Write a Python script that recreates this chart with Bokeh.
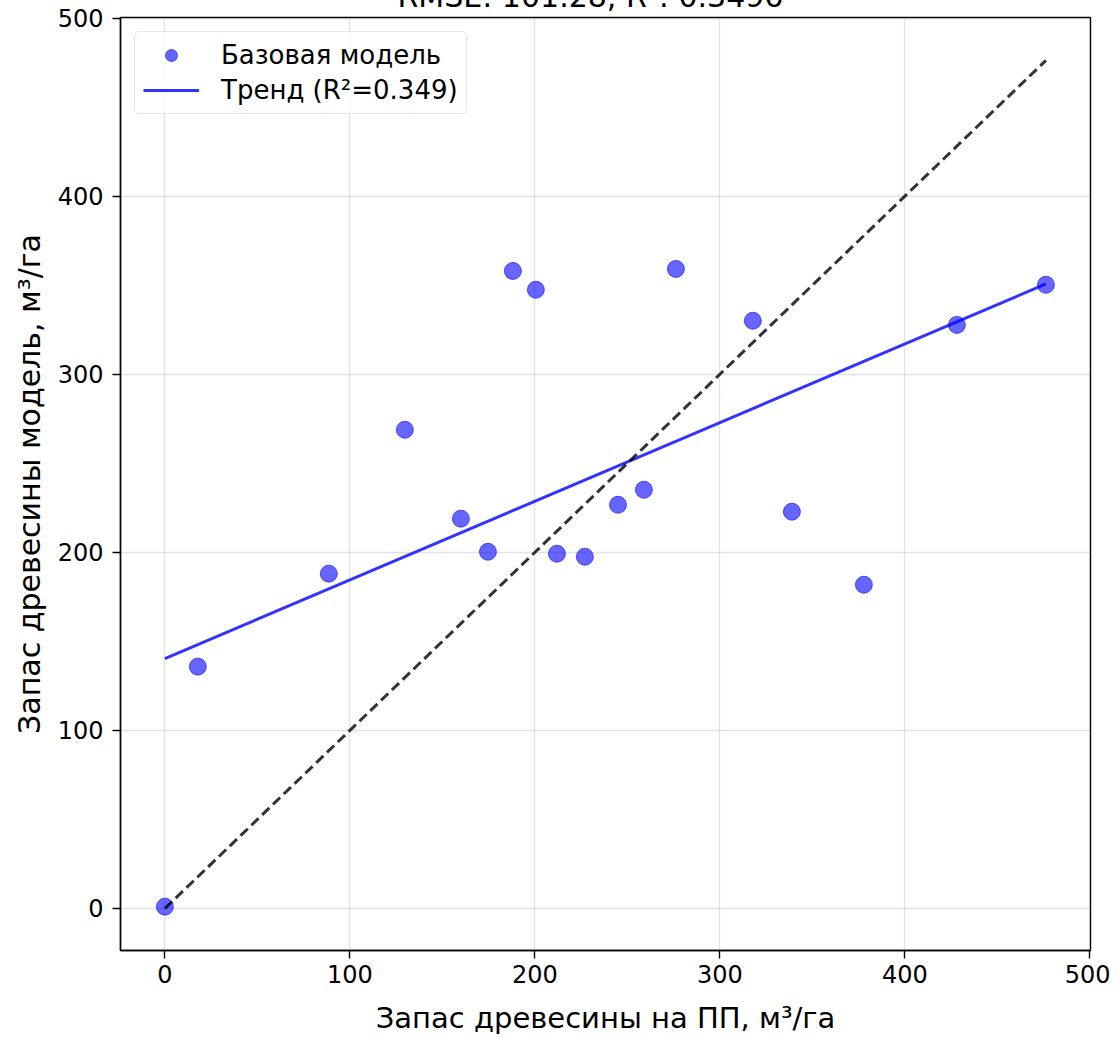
import numpy as np
from bokeh.plotting import figure
from bokeh.models import Range1d, Legend, LegendItem, SingleIntervalTicker
from bokeh.embed import file_html
from bokeh.resources import INLINE

# Data
observed = [0.0, 17.8, 88.6, 129.7, 160.0, 174.6, 188.1, 200.5, 211.9, 227.0,
            244.9, 258.9, 276.2, 317.8, 338.9, 377.8, 428.1, 476.2]
predicted = [1.0, 135.8, 188.0, 268.8, 218.9, 200.3, 358.0, 347.4, 199.2, 197.5,
             226.7, 235.1, 359.1, 330.0, 222.8, 181.8, 327.7, 350.2]
trend_x = [0.0, 476.2]
trend_y = [140.3, 350.7]
ideal_x = [0.0, 476.2]
ideal_y = [0.0, 476.2]
title_text = "RMSE: 101.28, R²: 0.3496"
x_label = "Запас древесины на ПП, м³/га"
y_label = "Запас древесины модель, м³/га"
legend_labels = ["Базовая модель", "Тренд (R²=0.349)"]

FONT = "DejaVu Sans"
SHIFT = 28  # the reference's title is cut off by the top edge of the page

p = figure(width=1110, height=1038 + SHIFT, output_backend="svg", toolbar_location=None,
           x_range=Range1d(-24.0, 500.3), y_range=Range1d(-23.6, 500.3),
           min_border_left=120, min_border_right=20, min_border_top=0, min_border_bottom=88,
           title=title_text, styles={"margin-top": f"-{SHIFT}px"})
p.title.text_font = FONT
p.title.text_font_size = "30px"
p.title.text_font_style = "normal"
p.title.text_color = "black"
p.title.align = "left"
p.title.offset = 277
p.title.standoff = 8

p.outline_line_color = "black"
p.outline_line_width = 1.4
p.background_fill_color = "white"
p.border_fill_color = "white"

for ax in (p.xaxis[0], p.yaxis[0]):
    ax.ticker = SingleIntervalTicker(interval=100)
    ax.major_label_text_font = FONT
    ax.major_label_text_font_size = "24px"
    ax.major_label_text_color = "black"
    ax.axis_line_color = "black"
    ax.axis_line_width = 1.4
    ax.major_tick_line_color = "black"
    ax.major_tick_line_width = 1.4
    ax.major_tick_out = 8
    ax.major_tick_in = 0
    ax.minor_tick_line_color = None
    ax.axis_label_text_font = FONT
    ax.axis_label_text_font_style = "normal"
    ax.axis_label_text_color = "black"

p.xaxis.axis_label = x_label
p.yaxis.axis_label = y_label
p.xaxis.axis_label_text_font_size = "29px"
p.yaxis.axis_label_text_font_size = "30px"
p.xaxis.major_label_standoff = 6
p.xaxis.axis_label_standoff = 15
p.yaxis.major_label_standoff = 9
p.yaxis.axis_label_standoff = 8

p.grid.grid_line_color = "#b0b0b0"
p.grid.grid_line_alpha = 0.35
p.grid.grid_line_width = 1.3
p.xgrid.ticker = SingleIntervalTicker(interval=100)
p.ygrid.ticker = SingleIntervalTicker(interval=100)

sc = p.scatter(observed, predicted, size=17, fill_color="blue", fill_alpha=0.6,
               line_color="blue", line_alpha=0.6, line_width=1)
tr = p.line(trend_x, trend_y, line_color="blue", line_alpha=0.8, line_width=3)
p.line(ideal_x, ideal_y, line_color="black", line_alpha=0.8, line_width=3,
       line_dash="10 5")

legend = Legend(items=[LegendItem(label=legend_labels[0], renderers=[sc]),
                       LegendItem(label=legend_labels[1], renderers=[tr])],
                location="top_left")
legend.label_text_font = FONT
legend.label_text_font_size = "26px"
legend.label_text_color = "black"
legend.glyph_width = 56
legend.glyph_height = 30
legend.label_height = 30
legend.spacing = 5
legend.padding = 8
legend.margin = 14
legend.label_standoff = 22
legend.border_line_color = "#cccccc"
legend.border_line_width = 1.4
legend.border_radius = 5
legend.background_fill_alpha = 0.8
p.add_layout(legend)

open("out.html", "w").write(file_html(p, INLINE))
